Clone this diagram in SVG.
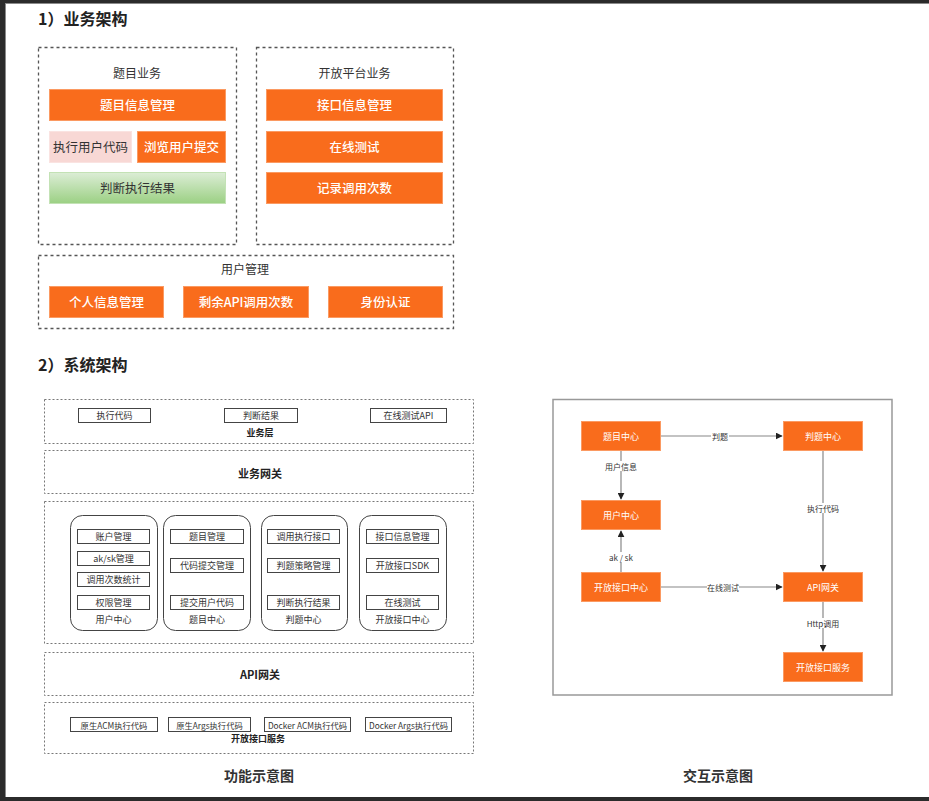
<svg xmlns="http://www.w3.org/2000/svg" width="929" height="801" viewBox="0 0 929 801">
  <defs>
    <linearGradient id="greenGrad" x1="0" y1="0" x2="0" y2="1">
      <stop offset="0" stop-color="#dcedd6"/>
      <stop offset="1" stop-color="#9bd083"/>
    </linearGradient>
    <marker id="arrow" viewBox="0 0 10 10" refX="9" refY="5" markerWidth="7" markerHeight="7" orient="auto" markerUnits="userSpaceOnUse">
      <path d="M0,0 L10,5 L0,10 z" fill="#222"/>
    </marker>
    <style>
      text { font-family: "Noto Sans CJK SC", "Liberation Sans", sans-serif; }
      .title { font-size: 16px; font-weight: 700; fill: #222; }
      .caption { font-size: 14px; font-weight: 700; fill: #333; text-anchor: middle; }
      .group { fill: #fff; stroke: #555; stroke-width: 1.3; stroke-dasharray: 3 3; }
      .grouplabel { font-size: 12px; fill: #333; text-anchor: middle; dominant-baseline: central; }
      .orange { fill: #f96c1c; stroke: #fb9a62; stroke-width: 1; }
      .orangetext { font-size: 12.5px; font-weight: 500; fill: #fff; text-anchor: middle; dominant-baseline: central; }
      .pink { fill: #f8d8d5; stroke: #fae3e1; stroke-width: 1; }
      .darktext { font-size: 12.5px; fill: #333; text-anchor: middle; dominant-baseline: central; }
      .green { fill: url(#greenGrad); stroke: #c3e2b5; stroke-width: 1; }
      .layer { fill: #fff; stroke: #777; stroke-width: 1; stroke-dasharray: 2 2; }
      .layerlabel { font-size: 9px; font-weight: 700; fill: #222; text-anchor: middle; dominant-baseline: central; }
      .layerbig { font-size: 11px; font-weight: 700; fill: #222; text-anchor: middle; dominant-baseline: central; }
      .center { fill: #fff; stroke: #444; stroke-width: 1; }
      .item { fill: #fff; stroke: #444; stroke-width: 1; }
      .itemtext { font-size: 9px; fill: #333; text-anchor: middle; dominant-baseline: central; }
      .itemsmall { font-size: 8.3px; fill: #333; text-anchor: middle; dominant-baseline: central; }
      .frame { fill: #fff; stroke: #999; stroke-width: 1.5; }
      .node { fill: #f96c1c; stroke: #fb9a62; stroke-width: 1; }
      .nodetext { font-size: 9px; fill: #fff; text-anchor: middle; dominant-baseline: central; }
      .edge { stroke: #888; stroke-width: 1.2; fill: none; }
      .edgelabel { font-size: 8px; fill: #333; text-anchor: middle; dominant-baseline: central; }
    </style>
  </defs>

  <!-- window chrome -->
  <rect x="0" y="0" width="929" height="801" fill="#2b2b2b"/>
  <rect x="5" y="3" width="924" height="794" fill="#8a8a8a"/>
  <rect x="6" y="4" width="923" height="793" fill="#ffffff"/>

  <!-- 1) business architecture -->
  <text class="title" x="38" y="25">1）业务架构</text>

  <g id="problem-business">
    <rect class="group" x="38.5" y="47.5" width="198" height="197"/>
    <text class="grouplabel" x="137" y="72.5">题目业务</text>
    <rect class="orange" x="49.5" y="89.5" width="176" height="31"/>
    <text class="orangetext" x="137.5" y="104.5">题目信息管理</text>
    <rect class="pink" x="49.5" y="131.5" width="82" height="31"/>
    <text class="darktext" x="90.5" y="146.5">执行用户代码</text>
    <rect class="orange" x="137.5" y="131.5" width="88" height="31"/>
    <text class="orangetext" x="181.5" y="146.5">浏览用户提交</text>
    <rect class="green" x="49.5" y="172.5" width="176" height="31"/>
    <text class="darktext" x="137.5" y="187.5">判断执行结果</text>
  </g>

  <g id="open-platform-business">
    <rect class="group" x="256.5" y="47.5" width="197" height="197"/>
    <text class="grouplabel" x="354.5" y="72.5">开放平台业务</text>
    <rect class="orange" x="266.5" y="89.5" width="176" height="31"/>
    <text class="orangetext" x="354.5" y="104.5">接口信息管理</text>
    <rect class="orange" x="266.5" y="131.5" width="176" height="31"/>
    <text class="orangetext" x="354.5" y="146.5">在线测试</text>
    <rect class="orange" x="266.5" y="172.5" width="176" height="31"/>
    <text class="orangetext" x="354.5" y="187.5">记录调用次数</text>
  </g>

  <g id="user-management">
    <rect class="group" x="38.5" y="255.5" width="415" height="73"/>
    <text class="grouplabel" x="245" y="268.5">用户管理</text>
    <rect class="orange" x="49.5" y="286.5" width="114" height="31"/>
    <text class="orangetext" x="106.5" y="301.5">个人信息管理</text>
    <rect class="orange" x="183.5" y="286.5" width="125" height="31"/>
    <text class="orangetext" x="246" y="301.5">剩余API调用次数</text>
    <rect class="orange" x="328.5" y="286.5" width="114" height="31"/>
    <text class="orangetext" x="385.5" y="301.5">身份认证</text>
  </g>

  <!-- 2) system architecture -->
  <text class="title" x="38" y="371">2）系统架构</text>

  <g id="business-layer">
    <rect class="layer" x="44.5" y="399.5" width="429" height="44"/>
    <rect class="item" x="78.5" y="408.5" width="72" height="14"/>
    <text class="itemtext" x="114.5" y="415.5">执行代码</text>
    <rect class="item" x="224.5" y="408.5" width="73" height="14"/>
    <text class="itemtext" x="261" y="415.5">判断结果</text>
    <rect class="item" x="370.5" y="408.5" width="76" height="14"/>
    <text class="itemtext" x="408.5" y="415.5">在线测试API</text>
    <text class="layerlabel" x="260" y="432">业务层</text>
  </g>

  <g id="business-gateway">
    <rect class="layer" x="44.5" y="450.5" width="429" height="43"/>
    <text class="layerbig" x="260" y="472.5">业务网关</text>
  </g>

  <g id="service-centers">
    <rect class="layer" x="44.5" y="501.5" width="429" height="142"/>
  </g>

  <g id="user-center">
    <rect class="center" x="70.5" y="515.5" width="87" height="115" rx="12"/>
    <rect class="item" x="77.5" y="529.5" width="72" height="14"/>
    <text class="itemtext" x="113.5" y="536.5">账户管理</text>
    <rect class="item" x="77.5" y="551.5" width="72" height="14"/>
    <text class="itemtext" x="113.5" y="558.5">ak/sk管理</text>
    <rect class="item" x="77.5" y="572.5" width="72" height="14"/>
    <text class="itemtext" x="113.5" y="579.5">调用次数统计</text>
    <rect class="item" x="77.5" y="595.5" width="72" height="14"/>
    <text class="itemtext" x="113.5" y="602.5">权限管理</text>
    <text class="itemtext" x="113.5" y="619.5">用户中心</text>
  </g>

  <g id="problem-center">
    <rect class="center" x="163.5" y="515.5" width="87" height="115" rx="12"/>
    <rect class="item" x="170.5" y="529.5" width="73" height="14"/>
    <text class="itemtext" x="207" y="536.5">题目管理</text>
    <rect class="item" x="170.5" y="558.5" width="73" height="14"/>
    <text class="itemtext" x="207" y="565.5">代码提交管理</text>
    <rect class="item" x="170.5" y="595.5" width="73" height="14"/>
    <text class="itemtext" x="207" y="602.5">提交用户代码</text>
    <text class="itemtext" x="207" y="619.5">题目中心</text>
  </g>

  <g id="judge-center">
    <rect class="center" x="261.5" y="515.5" width="86" height="115" rx="12"/>
    <rect class="item" x="267.5" y="529.5" width="72" height="14"/>
    <text class="itemtext" x="303.5" y="536.5">调用执行接口</text>
    <rect class="item" x="267.5" y="558.5" width="72" height="14"/>
    <text class="itemtext" x="303.5" y="565.5">判题策略管理</text>
    <rect class="item" x="267.5" y="595.5" width="72" height="14"/>
    <text class="itemtext" x="303.5" y="602.5">判断执行结果</text>
    <text class="itemtext" x="303.5" y="619.5">判题中心</text>
  </g>

  <g id="open-api-center">
    <rect class="center" x="359.5" y="515.5" width="87" height="115" rx="12"/>
    <rect class="item" x="366.5" y="529.5" width="72" height="14"/>
    <text class="itemtext" x="402.5" y="536.5">接口信息管理</text>
    <rect class="item" x="366.5" y="558.5" width="72" height="14"/>
    <text class="itemtext" x="402.5" y="565.5">开放接口SDK</text>
    <rect class="item" x="366.5" y="595.5" width="72" height="14"/>
    <text class="itemtext" x="402.5" y="602.5">在线测试</text>
    <text class="itemtext" x="402.5" y="619.5">开放接口中心</text>
  </g>

  <g id="api-gateway-layer">
    <rect class="layer" x="44.5" y="652.5" width="429" height="43"/>
    <text class="layerbig" x="260" y="673.5">API网关</text>
  </g>

  <g id="open-api-service-layer">
    <rect class="layer" x="44.5" y="702.5" width="429" height="51"/>
    <rect class="item" x="70.5" y="717.5" width="87" height="14"/>
    <text class="itemsmall" x="114" y="724.5">原生ACM执行代码</text>
    <rect class="item" x="168.5" y="717.5" width="82" height="14"/>
    <text class="itemsmall" x="209.5" y="724.5">原生Args执行代码</text>
    <rect class="item" x="264.5" y="717.5" width="86" height="14"/>
    <text class="itemsmall" x="307.5" y="724.5">Docker ACM执行代码</text>
    <rect class="item" x="365.5" y="717.5" width="86" height="14"/>
    <text class="itemsmall" x="408.5" y="724.5">Docker Args执行代码</text>
    <text class="layerlabel" x="258" y="738">开放接口服务</text>
  </g>

  <text class="caption" x="259" y="781">功能示意图</text>

  <!-- interaction diagram -->
  <rect class="frame" x="553" y="399.5" width="339" height="295.5"/>

  <g id="connectors">
    <line class="edge" x1="661" y1="436" x2="782" y2="436" marker-end="url(#arrow)"/>
    <line class="edge" x1="621" y1="451" x2="621" y2="499" marker-end="url(#arrow)"/>
    <line class="edge" x1="823" y1="451" x2="823" y2="571" marker-end="url(#arrow)"/>
    <line class="edge" x1="621" y1="572" x2="621" y2="531" marker-end="url(#arrow)"/>
    <line class="edge" x1="661" y1="587" x2="782" y2="587" marker-end="url(#arrow)"/>
    <line class="edge" x1="823" y1="602" x2="823" y2="651" marker-end="url(#arrow)"/>
    <rect x="711" y="431" width="18" height="10" fill="#fff"/>
    <text class="edgelabel" x="720" y="436">判题</text>
    <rect x="605" y="461" width="32" height="10" fill="#fff"/>
    <text class="edgelabel" x="621" y="466">用户信息</text>
    <rect x="807" y="503" width="32" height="10" fill="#fff"/>
    <text class="edgelabel" x="823" y="508">执行代码</text>
    <rect x="608" y="552" width="26" height="10" fill="#fff"/>
    <text class="edgelabel" x="621" y="557">ak / sk</text>
    <rect x="707" y="582" width="32" height="10" fill="#fff"/>
    <text class="edgelabel" x="723" y="587">在线测试</text>
    <rect x="808" y="618" width="30" height="10" fill="#fff"/>
    <text class="edgelabel" x="823" y="623">Http调用</text>
  </g>

  <g id="node-problem-center">
    <rect class="node" x="581.5" y="421.5" width="79" height="29"/>
    <text class="nodetext" x="621" y="436">题目中心</text>
  </g>
  <g id="node-judge-center">
    <rect class="node" x="783.5" y="421.5" width="79" height="29"/>
    <text class="nodetext" x="823" y="436">判题中心</text>
  </g>
  <g id="node-user-center">
    <rect class="node" x="581.5" y="500.5" width="79" height="29"/>
    <text class="nodetext" x="621" y="515">用户中心</text>
  </g>
  <g id="node-open-api-center">
    <rect class="node" x="581.5" y="572.5" width="79" height="29"/>
    <text class="nodetext" x="621" y="587">开放接口中心</text>
  </g>
  <g id="node-api-gateway">
    <rect class="node" x="783.5" y="572.5" width="79" height="29"/>
    <text class="nodetext" x="823" y="587">API网关</text>
  </g>
  <g id="node-open-api-service">
    <rect class="node" x="783.5" y="652.5" width="79" height="29"/>
    <text class="nodetext" x="823" y="667">开放接口服务</text>
  </g>

  <text class="caption" x="718" y="781">交互示意图</text>
</svg>
